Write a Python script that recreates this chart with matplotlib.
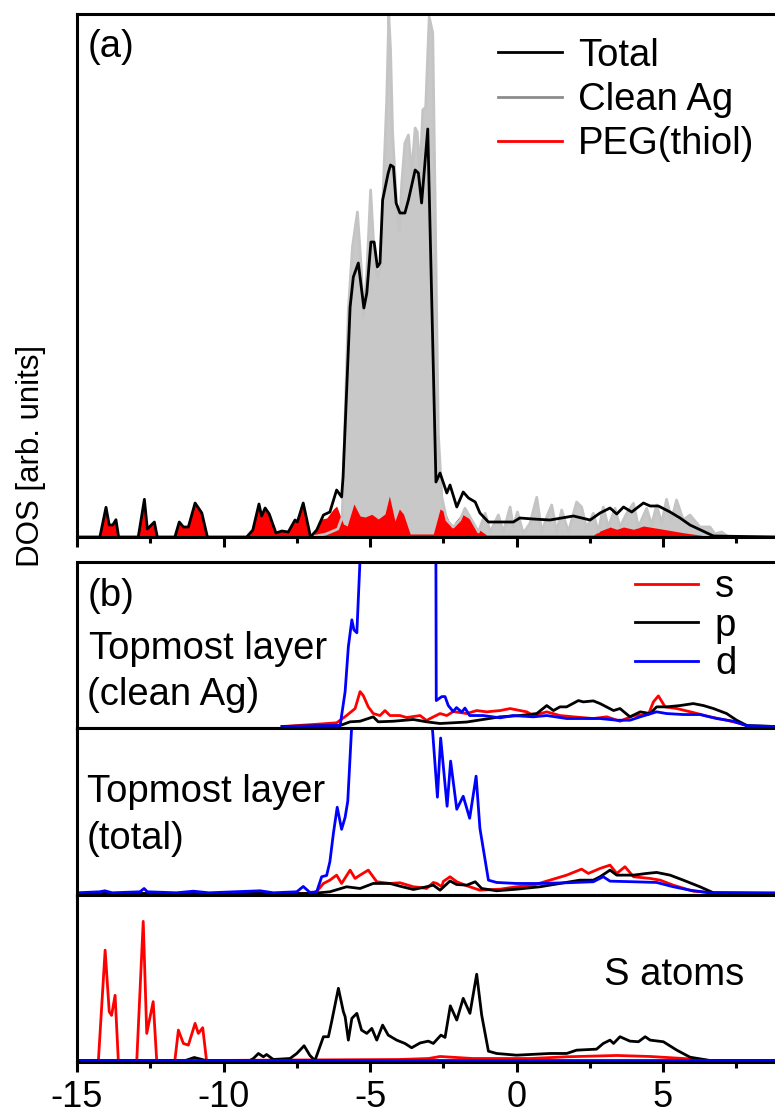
import matplotlib
matplotlib.use('Agg')
import matplotlib.pyplot as plt
from matplotlib.lines import Line2D
from matplotlib.ticker import MultipleLocator


# (a) total DOS, clean Ag, PEG(thiol)
a_total_e = [-15.0, -14.22, -14.01, -13.90, -13.78, -13.67, -13.58, -12.91, -12.70, -12.60, -12.36, -12.26,
             -11.66, -11.51, -11.37, -11.20, -10.97, -10.74, -10.55, -9.21, -9.00, -8.79, -8.70, -8.58, -8.44,
             -8.21, -8.01, -7.79, -7.56, -7.48, -7.28, -7.03, -6.82, -6.59, -6.37, -6.14, -5.97, -5.92, -5.68,
             -5.57, -5.40, -5.21, -5.11, -4.97, -4.86, -4.75, -4.66, -4.57, -4.38, -4.30, -4.20, -4.11, -3.98,
             -3.81, -3.69, -3.46, -3.35, -3.24, -3.03, -2.75, -2.61, -2.38, -2.27, -2.04, -1.82, -1.64, -1.41,
             -1.25, -0.96, -0.68, -0.11, 0.11, 0.57, 1.14, 1.94, 2.51, 2.85, 3.19, 3.42, 3.65, 3.93, 4.33, 4.56,
             4.84, 5.24, 5.58, 5.92, 6.72, 8.82]
a_total_v = [0, 0, 29.7, 12, 12, 17.3, 0, 0, 37.7, 8, 15, 0,
             0, 15, 10, 10, 34, 24, 0, 0, 7, 33, 21, 29, 23,
             4, 6, 5, 17, 15, 34, 0, 7, 22, 25, 47, 40, 60, 230,
             260, 274, 229, 244, 295, 295, 270, 274, 337, 364, 372, 370, 334, 324,
             324, 337, 367, 364, 334, 408, 55, 64, 44, 52, 30, 45, 39, 35,
             24, 15, 15, 15, 19, 18, 17, 21, 17, 24, 29, 23, 30, 25, 34, 31,
             31, 25, 19, 12, 1, 0]

a_clean_e = [-7.0, -6.5, -6.1, -5.95, -5.85, -5.74, -5.60, -5.43, -5.29, -5.23, -5.11, -4.98, -4.86, -4.75,
             -4.64, -4.52, -4.43, -4.36, -4.30, -4.23, -4.09, -4.00, -3.92, -3.81, -3.69, -3.58, -3.46, -3.39,
             -3.29, -3.20, -3.10, -2.98, -2.86, -2.78, -2.67, -2.55, -2.38, -2.16, -1.93, -1.76, -1.53, -1.30,
             -1.07, -0.90, -0.62, -0.45, -0.22, -0.11, 0.03, 0.23, 0.46, 0.69, 0.86, 1.03, 1.20, 1.37, 1.54,
             1.77, 2.05, 2.22, 2.39, 2.62, 2.79, 2.96, 3.13, 3.36, 3.53, 3.76, 3.99, 4.16, 4.44, 4.61, 4.78,
             4.95, 5.12, 5.29, 5.46, 5.69, 5.92, 6.26, 6.60, 6.77, 7.00, 7.23, 8.82]
a_clean_v = [0, 3, 8, 20, 120, 227, 290, 325, 264, 220, 264, 347, 284, 260,
             270, 370, 437, 522, 487, 404, 330, 307, 353, 394, 402, 364, 409, 405,
             364, 427, 430, 520, 504, 337, 104, 40, 17, 10, 17, 28.7, 17, 5,
             23.7, 5, 22, 5, 30, 10, 25, 3.7, 13.7, 39.7, 5, 20, 32, 5, 27,
             5, 35, 30, 8.7, 23.7, 5, 30, 10, 28.7, 10, 23.7, 33.7, 10, 28.7, 12, 32,
             13.7, 37.7, 17, 37, 17, 22, 10, 10, 3, 5, 0, 0]

a_peg_e = [-15.0, -14.22, -14.01, -13.90, -13.78, -13.67, -13.58, -12.91, -12.70, -12.60, -12.36, -12.26,
           -11.66, -11.51, -11.37, -11.20, -10.97, -10.74, -10.55, -9.21, -9.00, -8.79, -8.70, -8.58, -8.44,
           -8.21, -8.01, -7.79, -7.56, -7.48, -7.28, -7.03, -6.96, -6.65, -6.48, -6.25, -6.14, -5.91, -5.78,
           -5.55, -5.34, -5.17, -4.94, -4.72, -4.49, -4.34, -4.15, -4.00, -3.86, -3.63, -2.84, -2.61, -2.44,
           -2.21, -2.10, -1.87, -1.59, -1.36, -1.02, 2.62, 2.85, 3.19, 3.42, 3.65, 3.99, 4.33, 5.01, 5.69,
           6.72, 8.82]
a_peg_v = [0, 0, 29.7, 12, 12, 17.3, 0, 0, 37.7, 8, 15, 0,
           0, 15, 10, 10, 34, 24, 0, 0, 7, 33, 21, 29, 23,
           4, 6, 5, 17, 15, 34, 0, 0, 18, 19, 28, 31, 13, 11,
           33, 21, 20, 22.7, 18, 23, 41, 16, 28, 23, 3, 3, 28, 25,
           9, 15, 23, 18, 9, 2, 2, 6, 10, 7.7, 10, 7.7, 11, 7.7, 4.3,
           0, 0]

# (b) topmost layer, clean Ag: s, p, d
b1_s_e = [-8.0, -6.94, -6.14, -5.80, -5.51, -5.34, -5.23, -5.06, -4.89, -4.66, -4.49, -4.32, -3.98, -3.75,
          -3.29, -3.07, -2.95, -2.61, -2.38, -2.16, -1.70, -1.36, -1.02, -0.56, -0.22, 0.35, 0.57, 1.03,
          1.48, 1.94, 2.62, 3.08, 3.53, 3.99, 4.50, 4.67, 4.84, 5.07, 5.47, 6.03, 6.60, 7.17, 7.63, 7.97, 8.82]
b1_s_v = [0, 2, 3.7, 11, 18, 35, 31, 19.7, 13, 11, 16, 11, 11, 9,
          11, 6, 8, 13, 11, 15, 13, 16, 14.7, 16, 18, 14.7, 11, 14.7,
          11, 9.7, 8, 9.7, 5.3, 11, 12, 24.7, 30.7, 19.7, 18, 14, 9.7, 6.3, 3, 0, 0]
b1_p_e = [-8.0, -6.02, -5.68, -5.34, -4.89, -4.72, -4.20, -3.52, -3.07, -2.61, -1.70, -0.56, 0.12, 0.69,
          1.03, 1.26, 1.48, 1.71, 2.11, 2.28, 2.62, 2.85, 3.31, 3.53, 3.87, 4.22, 4.56, 4.78, 5.12, 5.58,
          6.03, 6.38, 6.72, 7.17, 7.51, 7.86, 8.82]
b1_p_v = [0, 1, 4.7, 5.3, 9.7, 4.7, 5.3, 7, 4.7, 3, 4.5, 9.7, 11, 13,
          21, 16, 19.7, 19.7, 26, 24.7, 25.7, 23, 16, 18, 9.7, 14.7, 13, 19.7, 19.7, 21,
          23, 21, 18, 13, 6.3, 1, 0]
b1_d_e = [-8.0, -6.02, -5.85, -5.74, -5.62, -5.55, -5.45, -5.34, -5.2, -4.3, -3.3, -2.78, -2.74, -2.55,
          -2.44, -2.33, -2.16, -2.05, -1.87, -1.76, -1.60, -1.13, -0.56, -0.11, 0.57, 1.03, 1.71, 2.85,
          3.42, 3.87, 4.22, 4.78, 5.12, 5.69, 6.26, 6.83, 7.40, 7.86, 8.82]
b1_d_v = [0, 1, 35, 80, 107, 97, 94, 168, 500, 700, 650, 500, 26, 30,
          30, 21, 15, 19, 14.5, 18.5, 11, 11, 8.7, 11, 9.7, 11, 8, 8,
          6.3, 6.3, 9.7, 14.7, 13, 12, 12, 8, 5.3, 0.7, 0]

# (b) topmost layer, total
b2_s_e = [-15.0, -7.0, -6.82, -6.59, -6.37, -6.14, -5.97, -5.68, -5.51, -5.34, -5.06, -4.77, -4.32, -3.98,
          -3.52, -3.29, -3.07, -2.84, -2.72, -2.55, -2.50, -2.27, -2.04, -1.70, -1.25, -0.56, 0.00, 0.57,
          1.14, 1.71, 2.22, 2.45, 2.85, 3.19, 3.42, 3.70, 3.99, 4.56, 4.90, 5.35, 6.03, 6.72, 8.82]
b2_s_v = [0, 0, 2, 10, 13.3, 18.3, 10, 23.3, 15, 18.3, 23.3, 11.7, 10, 10.7,
          6.7, 6, 5, 11, 10, 6.7, 12, 16.7, 11.7, 7.7, 3.3, 4.3, 6.7, 8.3,
          13.3, 18.3, 24.3, 20, 25, 28.3, 20, 26.7, 16.7, 15, 13.3, 8.3, 2.3, 0.7, 0]
b2_p_e = [-15.0, -7.0, -6.37, -5.80, -5.34, -4.89, -4.32, -3.98, -3.52, -3.07, -2.84, -2.61, -2.27, -2.05,
          -1.70, -1.41, -1.19, -0.68, 0.00, 0.80, 1.48, 2.16, 2.62, 2.85, 3.19, 3.42, 3.99, 4.44, 4.78,
          5.24, 5.69, 6.26, 6.72, 8.82]
b2_p_v = [0, 0, 1.7, 6.7, 5, 10, 10, 7.3, 4, 6.7, 8.3, 3.3, 12.5, 9,
          8.3, 11.7, 5, 2.7, 4.3, 6.7, 10, 13.3, 13.3, 16.7, 23.3, 18.3, 18.3, 20, 21,
          18.3, 13.3, 6.7, 0.7, 0]
b2_d_e = [-15.0, -14.22, -14.05, -13.8, -12.85, -12.71, -12.6, -11.6, -11.03, -10.5, -8.75, -8.3, -7.5,
          -7.28, -7.05, -6.82, -6.65, -6.48, -6.37, -6.25, -6.12, -5.97, -5.85, -5.76, -5.62, -5.3, -4.4,
          -3.4, -3.0, -2.88, -2.70, -2.59, -2.37, -2.25, -2.04, -1.82, -1.60, -1.38, -1.25, -0.96, -0.68,
          0.00, 0.80, 1.71, 2.62, 2.96, 3.19, 3.99, 4.78, 5.35, 5.92, 6.60, 8.82]
b2_d_v = [0.7, 1.7, 2.7, 0.7, 1.7, 5, 1.7, 0.7, 2.3, 0.7, 2.7, 0.7, 1.7,
          7, 1, 1.7, 16.7, 18, 31.7, 60, 86, 64, 76, 92, 170, 450, 700,
          650, 450, 168, 96, 155, 87, 132, 84, 97, 75, 117, 65, 13.3, 11,
          10, 10, 10.7, 11.7, 16.7, 12.3, 11.7, 11, 6.7, 3.3, 0.7, 0.7]

# (b) S atoms
b3_s_e = [-15.0, -14.27, -14.04, -13.90, -13.82, -13.70, -13.59, -12.96, -12.74, -12.62, -12.40, -12.28,
          -11.66, -11.54, -11.37, -11.20, -10.97, -10.86, -10.71, -10.58, -4.0, -3.0, -2.61, -1.5, 0.5,
          1.71, 3.42, 4.56, 5.69, 6.6, 8.82]
b3_s_v = [0, 0, 110, 48.7, 45, 65, 0, 0, 138.7, 27, 58.7, 0,
          0, 30.3, 17, 15.3, 37, 27, 32.7, 0, 1, 2, 4, 2, 2,
          3.7, 5, 4, 2, 0, 0]
b3_p_e = [-15.0, -11.3, -11.0, -10.6, -9.1, -8.98, -8.81, -8.64, -8.53, -8.30, -7.73, -7.50, -7.25, -7.05,
          -6.88, -6.59, -6.42, -6.31, -6.08, -5.91, -5.85, -5.74, -5.62, -5.45, -5.29, -5.11, -4.94, -4.77,
          -4.57, -4.38, -4.09, -3.81, -3.58, -3.29, -3.01, -2.84, -2.58, -2.44, -2.26, -2.04, -1.82, -1.59,
          -1.36, -1.19, -0.96, -0.68, 0.00, 1.14, 1.71, 2.05, 2.73, 2.96, 3.19, 3.31, 3.53, 3.87, 4.16,
          4.39, 4.56, 5.01, 5.47, 5.92, 6.60, 8.82]
b3_p_v = [0, 0, 3, 0, 0, 2, 7, 3.7, 6, 1, 2, 7, 14.7, 5,
          0, 23.7, 23.7, 38.7, 72, 48.7, 43.7, 20.3, 42, 47, 30.3, 27, 32, 20.3,
          35.3, 25.3, 20.3, 17, 12.7, 17.5, 19.3, 17, 25.3, 23, 54.5, 40.3, 62, 47,
          86, 45.3, 9.3, 7, 5.3, 7, 7, 10.3, 11.3, 17, 20.3, 17, 23.7, 19.3, 18.7,
          23.7, 20.3, 18.7, 10.3, 3.3, 0, 0]
b3_d_e = [-15.0, 8.82]
b3_d_v = [0, 0]

x_ticks = [-15, -10, -5, 0, 5]

plt.rcParams['font.family'] = ['Liberation Sans', 'DejaVu Sans']
plt.rcParams['axes.unicode_minus'] = False
plt.rcParams['axes.linewidth'] = 2.2

fs = 27.5
lw = 2.0


def style_axis(ax, labels):
    ax.set_xlim(-15, 8.82)
    ax.xaxis.set_major_locator(MultipleLocator(5))
    ax.xaxis.set_minor_locator(MultipleLocator(2.5))
    ax.set_yticks([])
    ax.spines['right'].set_visible(False)
    ax.tick_params(axis='x', which='major', direction='out', length=7, width=2.2,
                   labelsize=26, pad=6, labelbottom=labels, top=False)
    ax.tick_params(axis='x', which='minor', direction='out', length=4, width=2.2, top=False)
    if labels:
        ax.set_xticks(x_ticks)


fig = plt.figure(figsize=(7.75, 11.17), dpi=100)
left = 77 / 775
width = 1 - left


def frac(top_px, bottom_px):
    return [left, 1 - bottom_px / 1117, width, (bottom_px - top_px) / 1117]


# panel (a)
ax_a = fig.add_axes(frac(14, 537))
ax_a.fill_between(a_clean_e, a_clean_v, 0, color='#c8c8c8', lw=0)
ax_a.plot(a_clean_e, a_clean_v, color='#c4c4c4', lw=lw)
ax_a.fill_between(a_peg_e, a_peg_v, 0, color='#ff0000', lw=0)
ax_a.plot(a_total_e, a_total_v, color='black', lw=lw)
ax_a.set_ylim(0, 523)
style_axis(ax_a, False)
ax_a.text(0.015, 0.917, '(a)', transform=ax_a.transAxes, fontsize=fs, va='baseline', ha='left')
handles = [Line2D([], [], color='black', lw=lw),
           Line2D([], [], color='#8c8c8c', lw=lw),
           Line2D([], [], color='#ff0000', lw=lw)]
ax_a.legend(handles, ['Total', 'Clean Ag', 'PEG(thiol)'], loc='upper left', bbox_to_anchor=(0.603, 0.955),
            frameon=False, fontsize=fs, borderpad=0, borderaxespad=0, handlelength=1.68,
            handletextpad=0.42, labelspacing=0.22)


def draw_orbitals(ax, s_e, s_v, p_e, p_v, d_e, d_v):
    ax.plot(s_e, s_v, color='#ff0000', lw=lw, label='s')
    ax.plot(p_e, p_v, color='black', lw=lw, label='p')
    ax.plot(d_e, d_v, color='#0000ff', lw=lw, label='d')
    ax.set_ylim(-1.5, 165)


ax_b1 = fig.add_axes(frac(562, 728))
draw_orbitals(ax_b1, b1_s_e, b1_s_v, b1_p_e, b1_p_v, b1_d_e, b1_d_v)
style_axis(ax_b1, False)
ax_b1.text(0.015, 0.735, '(b)', transform=ax_b1.transAxes, fontsize=fs, va='baseline')
ax_b1.text(0.017, 0.416, 'Topmost layer', transform=ax_b1.transAxes, fontsize=fs, va='baseline')
ax_b1.text(0.015, 0.139, '(clean Ag)', transform=ax_b1.transAxes, fontsize=fs, va='baseline')
ax_b1.legend(loc='upper left', bbox_to_anchor=(0.799, 0.955), frameon=False, fontsize=fs, borderpad=0,
             borderaxespad=0, handlelength=1.65, handletextpad=0.45, labelspacing=0.06)

ax_b2 = fig.add_axes(frac(728, 895))
draw_orbitals(ax_b2, b2_s_e, b2_s_v, b2_p_e, b2_p_v, b2_d_e, b2_d_v)
style_axis(ax_b2, False)
ax_b2.text(0.014, 0.559, 'Topmost layer', transform=ax_b2.transAxes, fontsize=fs, va='baseline')
ax_b2.text(0.014, 0.275, '(total)', transform=ax_b2.transAxes, fontsize=fs, va='baseline')

ax_b3 = fig.add_axes(frac(895, 1062))
draw_orbitals(ax_b3, b3_s_e, b3_s_v, b3_p_e, b3_p_v, b3_d_e, b3_d_v)
style_axis(ax_b3, True)
ax_b3.text(0.755, 0.461, 'S atoms', transform=ax_b3.transAxes, fontsize=fs, va='baseline')

fig.text(31 / 775, 1 - 456 / 1117, 'DOS [arb. units]', rotation=90, fontsize=22.5, ha='center', va='center')

plt.savefig('out.png', dpi=100)
